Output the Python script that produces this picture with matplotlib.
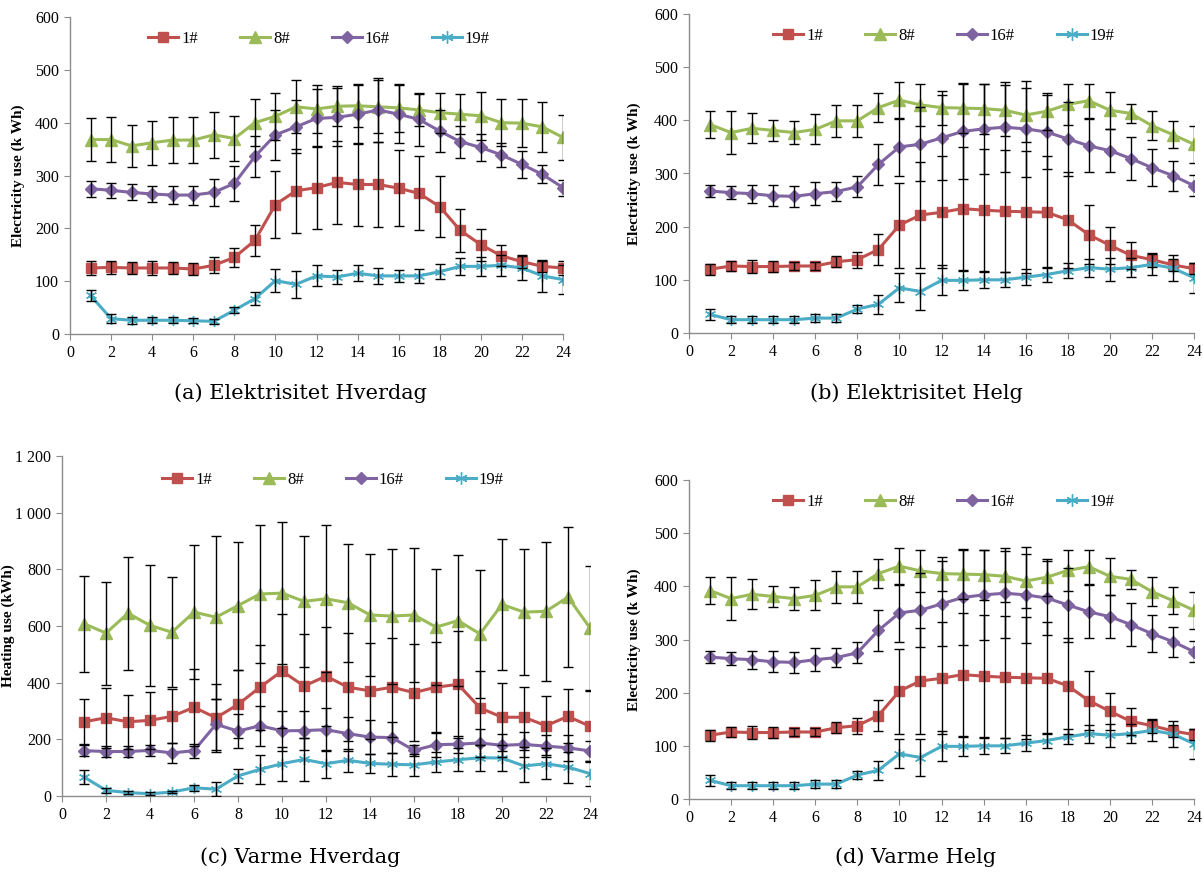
import matplotlib
matplotlib.use('Agg')
import matplotlib.pyplot as plt
from matplotlib.ticker import FuncFormatter
import numpy as np

plt.rcParams['font.family'] = ['Liberation Serif', 'DejaVu Serif']

hours = list(range(1, 25))
series_names = ['1#', '8#', '16#', '19#']

# (a) Elektrisitet Hverdag
elec_wd_1 = [125, 126, 125, 125, 125, 123, 130, 145, 177, 245, 271, 277, 287, 283, 283, 276, 266, 241, 196, 169, 148, 137, 128, 125]
elec_wd_1_err = [14, 12, 12, 13, 11, 12, 15, 18, 29, 64, 80, 78, 78, 78, 80, 72, 70, 58, 40, 30, 20, 13, 10, 13]
elec_wd_8 = [368, 368, 356, 362, 367, 367, 377, 370, 400, 412, 430, 426, 431, 432, 430, 428, 424, 419, 416, 413, 400, 399, 392, 372]
elec_wd_8_err = [40, 42, 40, 42, 44, 44, 44, 42, 45, 45, 50, 45, 38, 40, 50, 45, 30, 38, 38, 45, 45, 45, 48, 42]
elec_wd_16 = [275, 272, 268, 265, 263, 263, 268, 285, 336, 377, 392, 408, 410, 416, 424, 416, 406, 384, 364, 353, 339, 321, 302, 277]
elec_wd_16_err = [15, 14, 15, 15, 17, 18, 25, 33, 38, 47, 50, 55, 55, 57, 60, 55, 50, 40, 30, 25, 22, 25, 17, 15]
elec_wd_19 = [73, 29, 26, 26, 26, 25, 24, 45, 67, 101, 94, 110, 108, 115, 110, 110, 110, 118, 128, 128, 130, 125, 110, 103]
elec_wd_19_err = [10, 8, 7, 6, 6, 5, 5, 6, 12, 22, 25, 20, 14, 15, 15, 12, 13, 14, 16, 18, 20, 22, 30, 28]

# (b) Elektrisitet Helg
elec_we_1 = [120, 126, 125, 125, 126, 126, 134, 138, 157, 203, 222, 227, 234, 231, 229, 228, 227, 213, 185, 165, 146, 138, 128, 121]
elec_we_1_err = [10, 10, 12, 10, 7, 8, 10, 15, 30, 80, 100, 105, 115, 115, 115, 115, 105, 90, 55, 35, 25, 13, 12, 10]
elec_we_8 = [392, 377, 385, 381, 377, 383, 399, 399, 424, 438, 429, 424, 423, 422, 419, 410, 417, 430, 437, 419, 413, 390, 373, 355]
elec_we_8_err = [25, 40, 28, 20, 22, 28, 30, 30, 28, 35, 40, 32, 47, 47, 48, 50, 35, 38, 32, 35, 18, 27, 25, 35]
elec_we_16 = [267, 264, 262, 258, 257, 262, 266, 275, 317, 350, 355, 367, 379, 384, 387, 384, 378, 365, 352, 343, 328, 311, 296, 277]
elec_we_16_err = [12, 12, 17, 20, 20, 22, 18, 20, 38, 55, 70, 80, 90, 85, 85, 90, 70, 70, 50, 40, 40, 35, 28, 20]
elec_we_19 = [35, 25, 25, 25, 25, 28, 28, 45, 54, 85, 78, 99, 99, 100, 100, 105, 110, 117, 123, 120, 123, 129, 122, 104]
elec_we_19_err = [10, 7, 7, 7, 7, 7, 7, 8, 18, 27, 35, 28, 18, 15, 14, 15, 14, 14, 17, 22, 18, 20, 25, 28]

# (c) Varme Hverdag
heat_wd_1 = [262, 276, 262, 267, 281, 313, 276, 323, 384, 441, 388, 423, 384, 371, 384, 365, 384, 394, 311, 278, 278, 248, 281, 246]
heat_wd_1_err = [80, 105, 95, 100, 95, 135, 120, 120, 150, 200, 185, 175, 190, 170, 175, 170, 160, 190, 130, 120, 105, 105, 95, 125]
heat_wd_8 = [608, 575, 645, 602, 578, 649, 631, 672, 713, 716, 687, 696, 682, 639, 635, 639, 596, 619, 572, 676, 649, 652, 702, 593]
heat_wd_8_err = [170, 182, 199, 212, 194, 237, 288, 226, 242, 251, 232, 259, 208, 215, 238, 236, 204, 232, 225, 232, 223, 246, 246, 218]
heat_wd_16 = [160, 157, 157, 161, 152, 160, 253, 229, 248, 230, 231, 234, 220, 208, 206, 161, 181, 183, 187, 179, 182, 176, 170, 159]
heat_wd_16_err = [20, 20, 18, 20, 35, 25, 90, 60, 70, 70, 70, 75, 60, 60, 55, 20, 45, 30, 50, 40, 45, 40, 45, 35]
heat_wd_19 = [67, 20, 12, 8, 14, 29, 24, 71, 94, 114, 129, 114, 126, 115, 112, 110, 120, 128, 135, 134, 106, 114, 102, 79]
heat_wd_19_err = [25, 8, 5, 5, 5, 10, 25, 25, 50, 60, 75, 50, 40, 35, 40, 38, 35, 40, 45, 45, 55, 55, 55, 45]

# (d) Varme Helg -- the source figure shows the same curves as (b)
heat_we_1, heat_we_1_err = elec_we_1, elec_we_1_err
heat_we_8, heat_we_8_err = elec_we_8, elec_we_8_err
heat_we_16, heat_we_16_err = elec_we_16, elec_we_16_err
heat_we_19, heat_we_19_err = elec_we_19, elec_we_19_err

colors = ['#C0504D', '#9BBB59', '#8064A2', '#4BACC6']
markers = ['s', '^', 'D', (6, 2, 0)]
msizes = [7, 8, 6, 8]

W, H = 1203, 874
fig = plt.figure(figsize=(W / 100, H / 100), dpi=100)

def px_axes(l, r, t, b):
    return fig.add_axes([l / W, 1 - b / H, (r - l) / W, (b - t) / H])

# ylab_x is the right edge of the rotated y label, in pixels
panels = [
    dict(box=(70, 563, 17, 334), ymax=600, ystep=100, ylabel='Electricity use (k Wh)', ylab_x=25,
         leg=(319, 39), cap=(300, 393), title='(a) Elektrisitet Hverdag',
         data=[(elec_wd_1, elec_wd_1_err), (elec_wd_8, elec_wd_8_err), (elec_wd_16, elec_wd_16_err), (elec_wd_19, elec_wd_19_err)]),
    dict(box=(689, 1194, 14, 333), ymax=600, ystep=100, ylabel='Electricity use (k Wh)', ylab_x=641,
         leg=(944, 36), cap=(916, 393), title='(b) Elektrisitet Helg',
         data=[(elec_we_1, elec_we_1_err), (elec_we_8, elec_we_8_err), (elec_we_16, elec_we_16_err), (elec_we_19, elec_we_19_err)]),
    dict(box=(62, 590, 456, 796), ymax=1200, ystep=200, ylabel='Heating use (kWh)', ylab_x=15,
         leg=(333, 480), cap=(300, 857), title='(c) Varme Hverdag',
         data=[(heat_wd_1, heat_wd_1_err), (heat_wd_8, heat_wd_8_err), (heat_wd_16, heat_wd_16_err), (heat_wd_19, heat_wd_19_err)]),
    dict(box=(689, 1194, 480, 799), ymax=600, ystep=100, ylabel='Electricity use (k Wh)', ylab_x=641,
         leg=(944, 502), cap=(916, 857), title='(d) Varme Helg',
         data=[(heat_we_1, heat_we_1_err), (heat_we_8, heat_we_8_err), (heat_we_16, heat_we_16_err), (heat_we_19, heat_we_19_err)]),
]

thousands = FuncFormatter(lambda v, p: f'{int(v):,}'.replace(',', ' '))

for p in panels:
    l, r, t, b = p['box']
    ax = px_axes(l, r, t, b)
    for (vals, err), name, c, m, ms in zip(p['data'], series_names, colors, markers, msizes):
        ax.plot(hours, vals, color=c, lw=2.2, marker=m, ms=ms, mec=c, mfc=c, label=name, zorder=2)
        ax.errorbar(hours, vals, yerr=err, fmt='none', ecolor='black', elinewidth=1.0,
                    capsize=3.5, capthick=1.0, zorder=3)
    ax.set_xlim(0, 24)
    ax.set_ylim(0, p['ymax'])
    ax.set_xticks(range(0, 25, 2))
    ax.set_yticks(np.arange(0, p['ymax'] + 1, p['ystep']))
    ax.yaxis.set_major_formatter(thousands)
    for s in ['top', 'right']:
        ax.spines[s].set_visible(False)
    for s in ['left', 'bottom']:
        ax.spines[s].set_color('#8c8c8c')
        ax.spines[s].set_linewidth(1.0)
    ax.tick_params(axis='both', direction='out', length=4, color='#8c8c8c', labelsize=11.5, pad=4)
    ax.set_ylabel(p['ylabel'], fontsize=11, fontweight='bold')
    ax.yaxis.set_label_coords((p['ylab_x'] - l) / (r - l), 0.5)
    ax.legend(loc='center', bbox_to_anchor=(p['leg'][0] / W, 1 - p['leg'][1] / H),
              bbox_transform=fig.transFigure, ncol=4, frameon=False, fontsize=12,
              handlelength=1.8, handletextpad=0.2, columnspacing=2.5, numpoints=1,
              markerscale=1.1)
    fig.text(p['cap'][0] / W, 1 - p['cap'][1] / H, p['title'], ha='center', va='center',
             fontsize=15, family='DejaVu Serif')

fig.savefig('out.png', dpi=100)
